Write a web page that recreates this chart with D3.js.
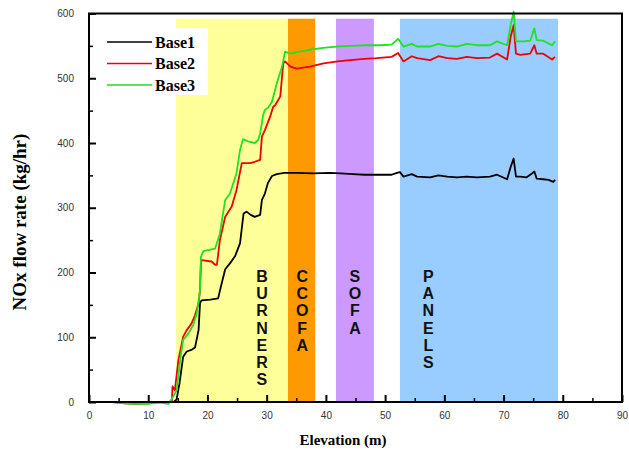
<!DOCTYPE html>
<html>
<head>
<meta charset="utf-8">
<script src="https://cdn.jsdelivr.net/npm/d3@7/dist/d3.min.js"></script>
<style>
  html, body { margin: 0; padding: 0; background: #fff; }
  svg { display: block; }
</style>
</head>
<body>
<svg id="chart" width="629" height="452"></svg>
<script>
// NOx flow rate along the furnace elevation for three baseline cases
const seriesNames = ["Base1", "Base2", "Base3"];

// [elevation (m), NOx flow rate (kg/hr)]
const base1 = [[0,0],[5,0],[10,0],[13,0],[14.3,0],[14.8,4],[15.3,30],[15.9,70],[16.5,78],[17.4,81],[17.9,84],[18.5,111],[18.75,153],[19,157],[20.5,158],[21.8,160],[22.4,183],[23,205],[23.8,214],[24.7,226],[25.5,245],[26.1,291],[26.6,294],[27.3,289],[28,286],[28.9,289],[29.2,312],[29.7,322],[30.2,338],[30.9,349],[31.7,352],[33,354],[35.1,354],[37.8,353],[40.7,354],[42.5,353],[44.6,352],[46.5,351],[48,351],[50,351],[51.1,351],[52,354],[52.5,355],[53.1,348],[54.5,352],[55.4,348],[57.6,347],[59,350],[60.5,348],[62.1,347],[63.8,348],[65.5,347],[67.7,348],[68.9,351],[70.6,344],[71.2,363],[71.7,376],[72.1,348],[72.8,348],[73.9,347],[74.8,353],[75.2,356],[75.6,345],[76.7,344],[77.6,343],[78.4,340],[78.7,343]];
const base2 = [[0,0],[4,0],[6,-2],[8,-3],[10,-2],[12,0],[13.5,0],[14,2],[14.1,24],[14.5,18],[15.1,65],[15.9,101],[16.5,111],[17.3,121],[17.9,134],[18.5,152],[18.75,173],[18.9,215],[19,219],[20.7,217],[21.3,212],[21.6,212],[22.1,250],[23,286],[24.1,302],[24.9,327],[25.8,369],[27.2,369],[28,371],[28.9,374],[29.2,410],[29.7,420],[30.6,441],[31.1,456],[31.4,458],[32.3,472],[32.8,523],[33.1,526],[34,518],[35.1,515],[37.3,518],[39.6,523],[42,526],[44.1,528],[46.5,530],[48.6,531],[51.1,533],[52.2,539],[53.1,526],[54.5,534],[55.4,531],[57.6,528],[59,534],[60.5,531],[62.1,530],[63.8,533],[65.5,531],[67.7,532],[68.9,538],[70.6,529],[71.2,564],[71.7,582],[72.1,538],[72.8,536],[74.5,538],[75.2,551],[75.6,538],[76.7,538],[78.2,529],[78.7,533]];
const base3 = [[0,0],[4,0],[6,-2],[8,-3],[10,-3],[12,-1],[13.4,-3],[14.2,8],[14.8,18],[15.4,65],[15.9,96],[16.8,106],[17.6,119],[18.2,137],[18.75,173],[18.9,224],[19.3,233],[21.3,237],[22.1,260],[23,312],[23.8,322],[24.9,353],[25.5,389],[26,406],[27,402],[28,400],[28.6,405],[28.9,415],[29.4,443],[29.7,451],[30.3,455],[30.9,464],[31.7,492],[32.6,518],[33.1,541],[34,538],[35.5,541],[37.3,544],[39.5,547],[41.8,549],[44,550],[46.9,551],[49,551],[51.1,552],[52.2,561],[53.1,549],[54.5,553],[55.4,549],[57.6,549],[59,553],[60.5,550],[62.1,549],[63.8,553],[65.5,551],[67.7,551],[68.9,557],[70.6,551],[71.2,582],[71.7,603],[72.1,557],[73.4,557],[74.5,558],[75.2,577],[75.6,559],[76.7,558],[78.2,551],[78.7,557]];

// furnace zones: name, start and end elevation (m), and where the vertical label sits
const zoneNames = ["BURNERS", "CCOFA", "SOFA", "PANELS"];
const zoneStart = [14.7, 33.6, 41.7, 52.5];
const zoneEnd   = [33.6, 38.2, 48.1, 79.2];
const zoneLabelAt = [29.2, 36.0, 44.9, 57.3];
const zoneTop = 592;

const xTicks = [0, 10, 20, 30, 40, 50, 60, 70, 80, 90];
const xMinorTicks = [5, 15, 25, 35, 45, 55, 65, 75, 85];
const yTicks = [0, 100, 200, 300, 400, 500, 600];
const yMinorTicks = [50, 150, 250, 350, 450, 550];

const zoneColors = ["#ffff99", "#ff9900", "#cc99ff", "#99ccff"];
const lineColors = ["#000000", "#ee0000", "#22e022"];

const svg = d3.select("#chart");
const x = d3.scaleLinear().domain([0, 90]).range([89, 622]);
const y = d3.scaleLinear().domain([0, 600]).range([402, 13.5]);

// zone bands
svg.append("g").selectAll("rect")
  .data(zoneNames.map((n, i) => ({ n, a: zoneStart[i], b: zoneEnd[i], c: zoneColors[i] })))
  .join("rect")
  .attr("x", d => x(d.a))
  .attr("width", d => x(d.b) - x(d.a))
  .attr("y", y(zoneTop))
  .attr("height", y(0) - y(zoneTop))
  .attr("fill", d => d.c);

// vertical zone labels, one letter per row
const labelG = svg.append("g")
  .attr("font-family", "Liberation Sans, Arial, sans-serif")
  .attr("font-size", 16)
  .attr("font-weight", "bold")
  .attr("fill", "#111")
  .attr("text-anchor", "middle");
zoneNames.forEach((name, i) => {
  name.split("").forEach((ch, j) => {
    labelG.append("text")
      .attr("x", x(zoneLabelAt[i]))
      .attr("y", 282 + j * 17.2)
      .text(ch);
  });
});

// legend background
svg.append("rect")
  .attr("x", 100).attr("y", 28).attr("width", 108).attr("height", 67)
  .attr("fill", "#fff");

// series lines
const line = d3.line().x(d => x(d[0])).y(d => y(d[1]));
[base1, base2, base3].forEach((s, i) => {
  svg.append("path")
    .datum(s)
    .attr("fill", "none")
    .attr("stroke", lineColors[i])
    .attr("stroke-width", 1.8)
    .attr("stroke-linejoin", "round")
    .attr("d", line);
});

// axes with inward ticks
const tickFont = g => g.selectAll("text")
  .attr("font-family", "Liberation Sans, Arial, sans-serif")
  .attr("font-size", 10)
  .attr("fill", "#333");

const xAxis = svg.append("g")
  .attr("transform", `translate(0,${y(0)})`)
  .call(d3.axisBottom(x).tickValues(xTicks).tickSize(-7).tickPadding(10).tickFormat(d3.format("d")));
xAxis.select(".domain").remove();
xAxis.selectAll("line").attr("stroke-width", 2);
xAxis.call(tickFont);

const xMinor = svg.append("g")
  .attr("transform", `translate(0,${y(0)})`)
  .call(d3.axisBottom(x).tickValues(xMinorTicks).tickSize(-4).tickFormat(""));
xMinor.select(".domain").remove();
xMinor.selectAll("line").attr("stroke-width", 1.5);

const yAxis = svg.append("g")
  .attr("transform", `translate(${x(0)},0)`)
  .call(d3.axisLeft(y).tickValues(yTicks).tickSize(-7).tickPadding(15).tickFormat(d3.format("d")));
yAxis.select(".domain").remove();
yAxis.selectAll("line").attr("stroke-width", 2);
yAxis.call(tickFont);

const yMinor = svg.append("g")
  .attr("transform", `translate(${x(0)},0)`)
  .call(d3.axisLeft(y).tickValues(yMinorTicks).tickSize(-4).tickFormat(""));
yMinor.select(".domain").remove();
yMinor.selectAll("line").attr("stroke-width", 1.5);

// plot frame
svg.append("rect")
  .attr("x", x(0)).attr("y", y(600))
  .attr("width", x(90) - x(0)).attr("height", y(0) - y(600))
  .attr("fill", "none").attr("stroke", "#000").attr("stroke-width", 2);

// legend entries
const legend = svg.append("g");
seriesNames.forEach((name, i) => {
  const ly = 42 + i * 21.5;
  legend.append("line")
    .attr("x1", 107).attr("x2", 152).attr("y1", ly).attr("y2", ly)
    .attr("stroke", lineColors[i]).attr("stroke-width", 1.5);
  legend.append("text")
    .attr("x", 155).attr("y", ly + 5.5)
    .attr("font-family", "Liberation Serif, Times New Roman, serif")
    .attr("font-weight", "bold")
    .attr("font-size", 16)
    .attr("fill", "#000")
    .text(name);
});

// axis titles
svg.append("text")
  .attr("x", 343).attr("y", 445)
  .attr("text-anchor", "middle")
  .attr("font-family", "Liberation Serif, Times New Roman, serif")
  .attr("font-weight", "bold")
  .attr("font-size", 15)
  .text("Elevation (m)");

svg.append("text")
  .attr("transform", "translate(26,222) rotate(-90)")
  .attr("text-anchor", "middle")
  .attr("font-family", "Liberation Serif, Times New Roman, serif")
  .attr("font-weight", "bold")
  .attr("font-size", 19)
  .text("NOx flow rate (kg/hr)");
</script>
</body>
</html>
